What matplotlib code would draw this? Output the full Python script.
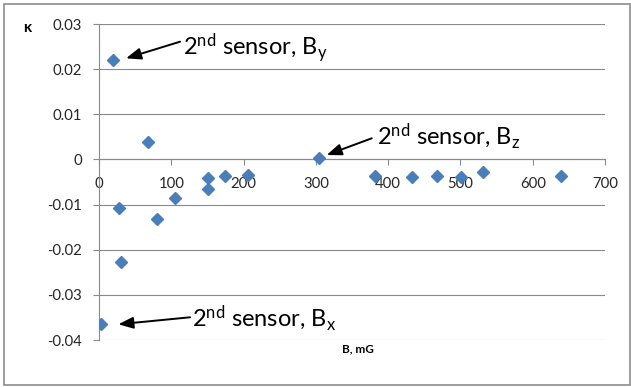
import matplotlib
matplotlib.use("Agg")
import matplotlib.pyplot as plt
from matplotlib.patches import Rectangle

# Magnetic field (mG) and kappa values
field_mG = [2.8, 19.4, 27.7, 30.0, 68.2, 79.8, 105.1, 151.2, 151.2, 174.3,
            206.5, 303.7, 381.8, 432.6, 467.2, 500.8, 531.6, 638.7]
kappa = [-0.0364, 0.0220, -0.0108, -0.0228, 0.0039, -0.0132, -0.0085, -0.0042,
         -0.0066, -0.0036, -0.0035, 0.0003, -0.0036, -0.0040, -0.0036, -0.0038,
         -0.0027, -0.0036]

x_ticks = [0, 100, 200, 300, 400, 500, 600, 700]
x_tick_labels = ["0", "100", "200", "300", "400", "500", "600", "700"]
y_ticks = [-0.04, -0.03, -0.02, -0.01, 0.0, 0.01, 0.02, 0.03]
y_tick_labels = ["-0.04", "-0.03", "-0.02", "-0.01", "0", "0.01", "0.02", "0.03"]

FONT = "Lato"
plt.rcParams["font.family"] = [FONT, "DejaVu Sans"]
plt.rcParams["mathtext.fontset"] = "custom"
plt.rcParams["mathtext.rm"] = FONT
plt.rcParams["mathtext.it"] = FONT + ":italic"
plt.rcParams["mathtext.bf"] = FONT + ":bold"

W, H = 631, 387
fig = plt.figure(figsize=(W / 100, H / 100), dpi=100)
fig.patch.set_facecolor("white")

left, right, top, bottom = 99, 605, 24, 340
ax = fig.add_axes([left / W, 1 - bottom / H, (right - left) / W, (bottom - top) / H])

grid_col = "#8a8a8a"
ax.set_xlim(0, 700)
ax.set_ylim(-0.04, 0.03)
ax.set_yticks(y_ticks)
ax.set_yticklabels(y_tick_labels)
ax.set_xticks(x_ticks)
ax.set_xticklabels(x_tick_labels)
ax.yaxis.grid(True, color=grid_col, lw=0.8)
ax.set_axisbelow(True)

for s in ("top", "right"):
    ax.spines[s].set_visible(False)
ax.spines["bottom"].set_position(("data", 0))
ax.spines["bottom"].set_color(grid_col)
ax.spines["left"].set_color(grid_col)
ax.spines["bottom"].set_linewidth(0.8)
ax.spines["left"].set_linewidth(0.8)

tick_col = "#262626"
ax.tick_params(axis="y", direction="out", length=4, width=0.8, color=grid_col,
               labelsize=10.7, labelcolor=tick_col, pad=8)
ax.tick_params(axis="x", direction="out", length=4, width=0.8, color=grid_col,
               labelsize=10.7, labelcolor=tick_col, pad=9)

ax.plot(field_mG, kappa, linestyle="none", marker="D", markersize=6.6,
        color="#4a7ebb", markeredgecolor="#4a7ebb", zorder=3)

# Sensor annotations
arrow_kw = dict(arrowstyle="-|>,head_length=0.9,head_width=0.35", color="black",
                lw=1.4, shrinkA=0, shrinkB=0)
notes = [
    (r"$2^{\mathrm{nd}}$ sensor, B$_{\mathrm{y}}$", (115.8, 0.0231), (112.1, 0.02608), (37.4, 0.0224)),
    (r"$2^{\mathrm{nd}}$ sensor, B$_{\mathrm{z}}$", (384.2, 0.00342), (377.3, 0.00468), (315.0, 0.00098)),
    (r"$2^{\mathrm{nd}}$ sensor, B$_{\mathrm{x}}$", (128.2, -0.0369), (125.9, -0.03497), (26.7, -0.03652)),
]
for label, txt_pos, tail, head in notes:
    ax.annotate("", xy=head, xytext=tail, arrowprops=arrow_kw, annotation_clip=False)
    ax.text(txt_pos[0], txt_pos[1], label, fontsize=17, va="baseline", ha="left",
            color="black")

fig.text(27 / W, 1 - 27.5 / H, "κ", fontsize=11, fontweight="bold",
         ha="center", va="center", color="black")
fig.text(358 / W, 1 - 349 / H, "B, mG", fontsize=8.5, fontweight="bold",
         ha="center", va="center", color="black")

# Chart-area border
fig.add_artist(Rectangle((4 / W, 1 - 385 / H), 626 / W, 381 / H,
                         transform=fig.transFigure, fill=False,
                         edgecolor="#8c8c8c", lw=1.2))

fig.savefig("out.png", dpi=100)
